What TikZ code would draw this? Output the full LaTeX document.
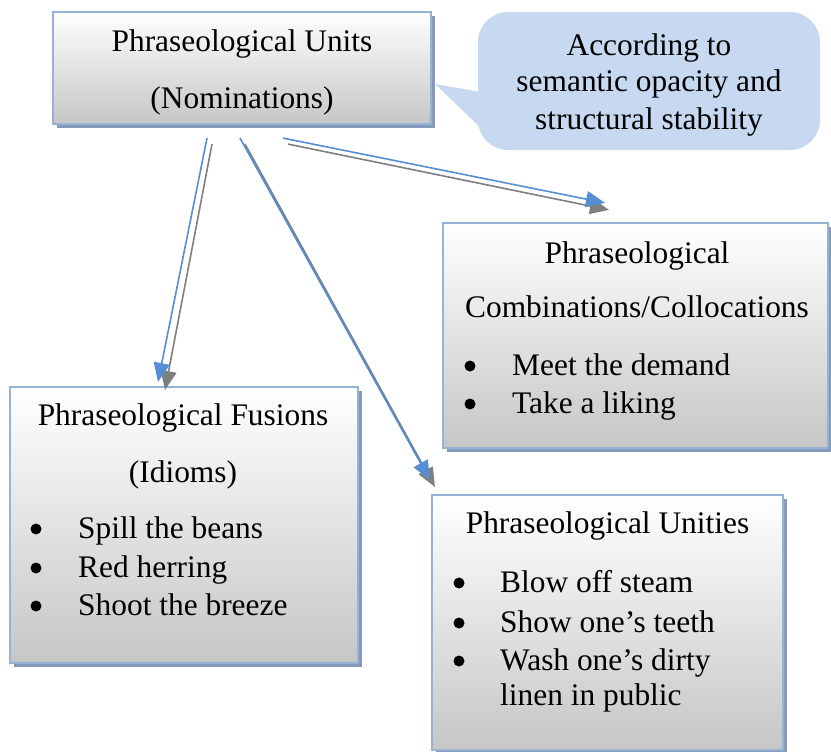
\documentclass[tikz,border=0pt]{standalone}
\usepackage{fontspec}
\setmainfont{Liberation Serif}
\usetikzlibrary{arrows.meta,calc,shadows}

\definecolor{boxline}{HTML}{95B3D7}
\definecolor{shadowblue}{HTML}{8799B8}
\definecolor{calloutfill}{HTML}{C6D9F1}
\definecolor{arrowblue}{HTML}{558ED5}
\definecolor{arrowgray}{HTML}{7F7F7F}
\definecolor{boxbottom}{HTML}{C6C6C6}

\tikzset{
  catbox/.style={rectangle, draw=boxline, line width=2.2pt,
    top color=white, bottom color=boxbottom, inner sep=0pt,
    general shadow={fill=shadowblue, shadow xshift=4pt, shadow yshift=-4pt}},
  notebox/.style={rectangle, rounded corners=30pt, fill=calloutfill, inner sep=0pt},
  txt/.style={font=\fontsize{31.4}{36}\selectfont, inner sep=0pt, anchor=base},
  itemtxt/.style={txt, anchor=base west},
  dot/.style={circle, fill=black, inner sep=0pt, minimum size=11pt},
  link/.style={line width=1.6pt, -{Triangle[length=19pt,width=16pt]}},
  bluelink/.style={link, draw=arrowblue, fill=arrowblue},
  graylink/.style={link, draw=arrowgray, fill=arrowgray},
}

\begin{document}
\begin{tikzpicture}[x=1pt, y=-1pt]
\useasboundingbox (0,0) rectangle (831,752);

% category boxes
\node[catbox, minimum width=378pt, minimum height=112pt] (units) at (242,68) {};
\node[catbox, minimum width=385pt, minimum height=225pt] (comb) at (635.5,335.5) {};
\node[catbox, minimum width=348pt, minimum height=276pt] (fus) at (184,525) {};
\node[catbox, minimum width=351pt, minimum height=255pt] (unit) at (607.5,622.5) {};

% callout with its tail
\node[notebox, minimum width=342pt, minimum height=138pt] (note) at (649,81) {};
\coordinate (tailtip) at ($(units.east)+(3,16)$);
\fill[calloutfill] (tailtip) -- ($(note.west)+(3,11)$) -- ($(note.west)+(3,47)$) -- cycle;

% texts of the top box
\node[txt] (unitsA) at (242,52) {Phraseological Units};
\node[txt] (unitsB) at (242,109) {(Nominations)};

% callout text
\node[txt] (noteA) at (649,56) {According to};
\node[txt] (noteB) at (649,92) {semantic opacity and};
\node[txt] (noteC) at (649,129) {structural stability};

% combinations / collocations
\node[txt] (combA) at (637,263) {Phraseological};
\node[txt] (combB) at (637,317) {Combinations/Collocations};
\node[dot] (combD1) at (470,366) {};
\node[itemtxt] (combI1) at (512,375) {Meet the demand};
\node[dot] (combD2) at (470,404) {};
\node[itemtxt] (combI2) at (512,413) {Take a liking};

% fusions
\node[txt] (fusA) at (183,425) {Phraseological Fusions};
\node[txt] (fusB) at (183,482) {(Idioms)};
\node[dot] (fusD1) at (36,529) {};
\node[itemtxt] (fusI1) at (78,538) {Spill the beans};
\node[dot] (fusD2) at (36,568) {};
\node[itemtxt] (fusI2) at (78,577) {Red herring};
\node[dot] (fusD3) at (36,606) {};
\node[itemtxt] (fusI3) at (78,615) {Shoot the breeze};

% unities
\node[txt] (unitA) at (607.5,533) {Phraseological Unities};
\node[dot] (unitD1) at (459,583) {};
\node[itemtxt] (unitI1) at (500,592) {Blow off steam};
\node[dot] (unitD2) at (459,623) {};
\node[itemtxt] (unitI2) at (500,632) {Show one’s teeth};
\node[dot] (unitD3) at (459,661) {};
\node[itemtxt] (unitI3) at (500,670) {Wash one’s dirty};
\node[itemtxt] (unitI4) at (500,705) {linen in public};

% connectors: each drawn as a gray and a blue stroke side by side
\draw[graylink] ($(units.south)+(-30,19)$) -- ($(fus.north)+(-19,4)$);
\draw[bluelink] ($(units.south)+(-35,13)$) -- ($(fus.north)+(-26,-4)$);

\draw[graylink] ($(units.south)+(3,19)$) -- ($(unit.north west)+(4,-7)$);
\draw[bluelink] ($(units.south)+(-2,13)$) -- ($(unit.north west)+(-1,-14)$);

\draw[graylink] ($(units.south)+(46,19)$) -- ($(comb.north)+(-26.5,-12)$);
\draw[bluelink] ($(units.south)+(41,13)$) -- ($(comb.north)+(-30.5,-19)$);
\end{tikzpicture}
\end{document}
